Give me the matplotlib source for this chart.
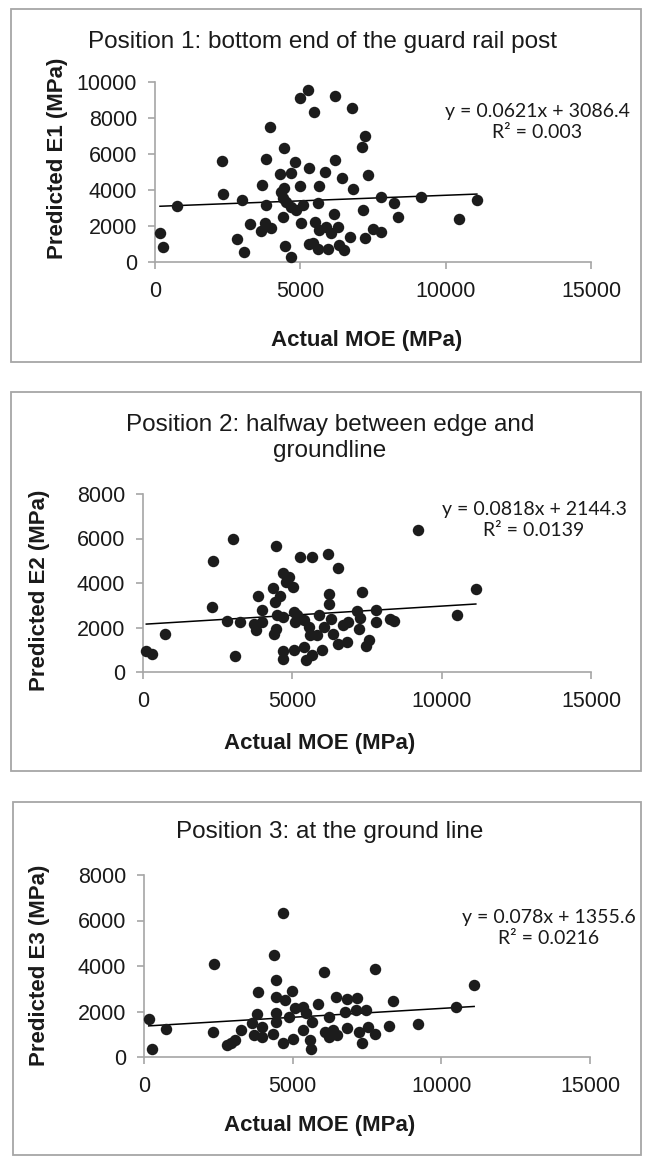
import matplotlib
matplotlib.use('Agg')
from matplotlib import pyplot as plt
from matplotlib.patches import Rectangle
import numpy as np

plt.rcParams['font.family'] = ['Liberation Sans', 'DejaVu Sans']

W, H = 647, 1157

# Position 1
moe1 = [171, 285, 742, 2318, 2340, 2831, 3060, 2991, 3254, 3688, 3825, 3973, 3802, 3768,
        3654, 3996, 4316, 4430, 4681, 4829, 4453, 4339, 4396, 4510, 4396, 4681, 4853, 5080,
        4990, 5024, 4487, 4681, 5000, 5251, 5480, 5285, 5651, 5593, 5845, 6188, 6188, 6450,
        6792, 6826, 7227, 7113, 7318, 6165, 5514, 5651, 5879, 6051, 6302, 5308, 5422, 5617,
        5959, 6336, 6497, 6724, 7158, 7227, 7512, 7765, 7765, 8220, 8346, 9167, 10446, 11074]
e1 = [1594, 850, 3111, 5611, 3778, 1278, 556, 3444, 2130, 4278, 5704, 7518, 3167, 2148,
      1741, 1870, 4889, 6315, 4926, 5555, 4093, 3907, 3537, 3352, 2519, 3074, 2889, 3167,
      4241, 2148, 889, 259, 9093, 9556, 8352, 5204, 4241, 3259, 4981, 5667, 9222, 4685,
      8537, 4056, 7019, 6407, 4833, 2667, 2241, 1778, 1926, 1593, 1926, 981, 1074, 722,
      722, 944, 667, 1407, 2889, 1315, 1833, 1685, 3593, 3296, 2500, 3593, 2389, 3444]

# Position 2
moe2 = [110, 301, 746, 2343, 2309, 3012, 2821, 3066, 3256, 3702, 3792, 3983, 3849, 3983,
        4351, 4461, 4405, 4595, 4686, 4873, 4796, 5020, 4485, 4371, 4451, 4686, 5040, 5097,
        5375, 5542, 5599, 5877, 6044, 5823, 5264, 5656, 6191, 6513, 6235, 6212, 6302, 6359,
        6513, 6827, 6713, 6880, 7181, 7272, 7349, 7229, 7564, 7463, 7798, 7785, 8276, 8410,
        4686, 4686, 5040, 5375, 5465, 5656, 5990, 5154, 9203, 11144, 10508]
e2 = [946, 797, 1729, 4984, 2899, 5961, 2283, 720, 2251, 2148, 1877, 2251, 3408, 2778,
      3755, 5659, 3124, 3408, 4457, 4250, 4052, 3827, 2553, 1729, 1954, 2476, 2701, 2251,
      2328, 2026, 1652, 2553, 2026, 1652, 5178, 5151, 5286, 4655, 3498, 3048, 2404, 1697,
      1279, 1351, 2134, 2251, 2733, 2449, 3602, 1922, 1427, 1171, 2778, 2251, 2373, 2296,
      946, 572, 977, 1126, 527, 752, 977, 2553, 6380, 3710, 2553]

# Position 3
moe3 = [158, 283, 730, 2322, 2345, 2806, 2917, 3052, 3254, 3701, 3836, 3815, 3647, 3984,
        3984, 4374, 4455, 4677, 4431, 4455, 4455, 4734, 4993, 4879, 5071, 5350, 5464, 5666,
        5350, 4341, 4677, 5014, 5576, 5609, 5855, 6047, 6225, 6080, 6359, 6225, 6494, 6473,
        6830, 6753, 6830, 7180, 7123, 7459, 7234, 7537, 7348, 7785, 7785, 8244, 8378, 9199,
        10488, 11104]
e3 = [1650, 371, 1209, 1103, 4090, 516, 635, 768, 1178, 957, 2841, 1871, 1500, 1324,
      882, 4487, 3384, 6326, 1941, 1544, 2621, 2501, 2912, 1765, 2135, 2206, 1915, 1544,
      1178, 1001, 618, 812, 768, 371, 2325, 3750, 1738, 1103, 1178, 882, 957, 2621,
      2546, 1985, 1280, 2576, 2060, 2060, 1103, 1324, 618, 1032, 3869, 1354, 2471, 1443,
      2206, 3163]

titles = ['Position 1: bottom end of the guard rail post',
          'Position 2: halfway between edge and\ngroundline',
          'Position 3: at the ground line']
ylabels = ['Predicted E1 (MPa)', 'Predicted E2 (MPa)', 'Predicted E3 (MPa)']
slopes = [0.0621, 0.0818, 0.078]
intercepts = [3086.4, 2144.3, 1355.6]
eq_texts = ['y = 0.0621x + 3086.4\nR² = 0.003',
            'y = 0.0818x + 2144.3\nR² = 0.0139',
            'y = 0.078x + 1355.6\nR² = 0.0216']
ymaxes = [10000, 8000, 8000]
xticks = [0, 5000, 10000, 15000]

# pixel layout
boxes = [(11, 9, 641, 362), (11, 392, 641, 771), (13, 802, 641, 1155)]
axpos = [(155, 82, 591, 262), (143, 494, 591, 672), (144, 875, 590, 1057)]
title_pos = [(323, 42), (330, 438), (330, 832)]
eq_pos = [(537, 122), (534, 520), (549, 928)]
ylab_pos = [(58, 158), (40, 590), (40, 965)]
xlab_pos = [(367, 340), (320, 744), (320, 1126)]

fig = plt.figure(figsize=(W / 100, H / 100), dpi=100)
fig.patch.set_facecolor('white')

def fx(px):
    return px / W

def fy(py):
    return 1 - py / H

data = [(moe1, e1), (moe2, e2), (moe3, e3)]
gray = '#a6a6a6'
ink = '#1a1a1a'

for i in range(3):
    bx0, by0, bx1, by1 = boxes[i]
    fig.patches.append(Rectangle((fx(bx0), fy(by1)), fx(bx1 - bx0), (by1 - by0) / H,
                                 transform=fig.transFigure, fill=False,
                                 edgecolor=gray, linewidth=1.3))
    l, t, r, b = axpos[i]
    ax = fig.add_axes([fx(l), fy(b), fx(r - l), (b - t) / H])
    x, y = data[i]
    ax.scatter(x, y, s=68, color='#1c1c1c', zorder=3, linewidths=0, clip_on=False)
    xs = np.array([min(x), max(x)])
    ax.plot(xs, slopes[i] * xs + intercepts[i], color='black', linewidth=1.1, zorder=2)
    ax.set_xlim(0, 15000)
    ax.set_ylim(0, ymaxes[i])
    ax.set_xticks(xticks)
    ax.set_yticks(np.arange(0, ymaxes[i] + 1, 2000))
    for s in ['top', 'right']:
        ax.spines[s].set_visible(False)
    for s in ['left', 'bottom']:
        ax.spines[s].set_color(gray)
        ax.spines[s].set_linewidth(1.2)
    ax.tick_params(axis='both', direction='out', length=5, width=1.2, color=gray,
                   labelsize=15.5, labelcolor=ink)
    ax.tick_params(axis='y', pad=8)
    ax.tick_params(axis='x', pad=8.5)
    ax.patch.set_alpha(0)

    fig.text(fx(title_pos[i][0]), fy(title_pos[i][1]), titles[i], ha='center', va='center',
             fontsize=17.5, color=ink, linespacing=1.2)
    fig.text(fx(ylab_pos[i][0]), fy(ylab_pos[i][1]), ylabels[i], rotation=90, ha='center',
             va='center', fontsize=16, fontweight='bold', color=ink)
    fig.text(fx(xlab_pos[i][0]), fy(xlab_pos[i][1]), 'Actual MOE (MPa)', ha='center',
             va='center', fontsize=16, fontweight='bold', color=ink)
    fig.text(fx(eq_pos[i][0]), fy(eq_pos[i][1]), eq_texts[i], ha='center', va='center',
             multialignment='center', fontsize=14, family=['Lato', 'DejaVu Sans'],
             color=ink, linespacing=1.25)

plt.savefig('out.png', dpi=100)
